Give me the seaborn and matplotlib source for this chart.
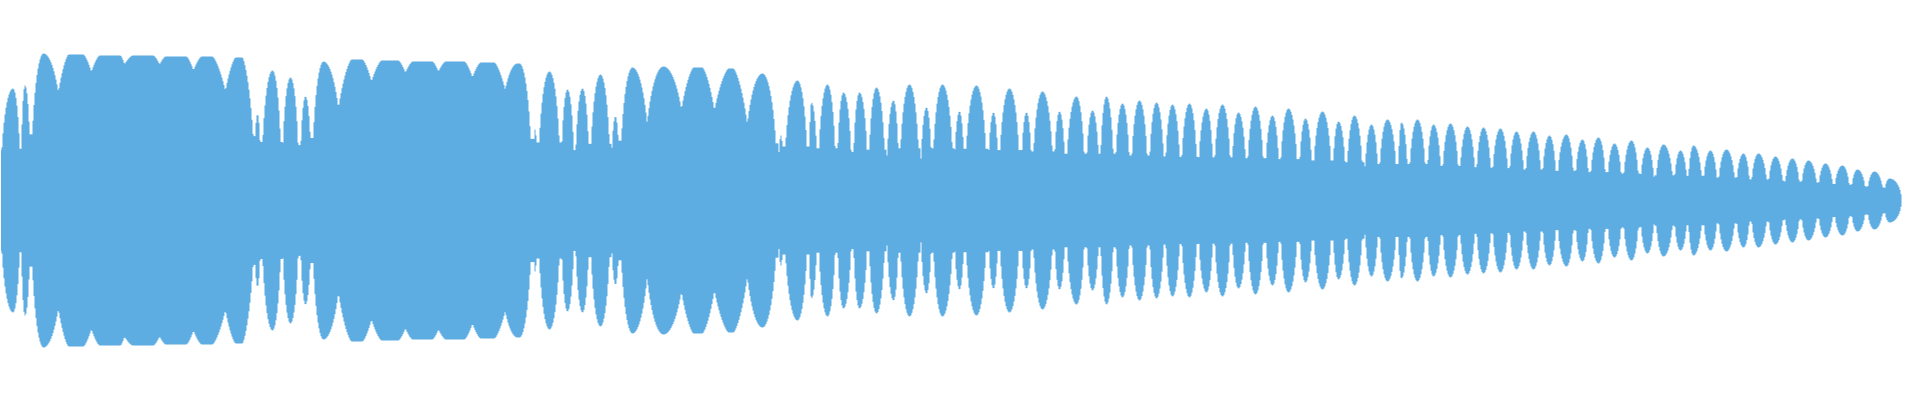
import numpy as np
import pandas as pd
import matplotlib
matplotlib.use('Agg')
import matplotlib.pyplot as plt
import seaborn as sns

# waveform envelope, one entry per bump (x in samples, amplitude in half-height units)
bump_start = [
    0, 20.5, 30.5, 50, 74.5, 95, 136, 174, 216, 253.5,
    261, 281.5, 299.5, 311.5, 331.5, 356, 385, 416, 455, 496,
    532.5, 537.5, 560.5, 574.5, 589.5, 610.5, 619.5, 643, 674, 706,
    743, 777.5, 783.5, 808.5, 817.5, 836.5, 852.5, 868, 886, 899,
    920, 932, 953.5, 964.5, 987.5, 998.5, 1020.5, 1032, 1053.5, 1065.5,
    1085.5, 1099.5, 1114.5, 1130.5, 1148.5, 1164.5, 1180.5, 1197.5, 1213.5, 1231,
    1246.5, 1264.5, 1279.5, 1298.5, 1312.5, 1332, 1346, 1364, 1378.5, 1397.5,
    1408.5, 1426.5, 1441.5, 1459, 1475.5, 1491.5, 1508.5, 1524.5, 1541.5, 1556.5,
    1574.5, 1589.5, 1606.5, 1622.5, 1639.5, 1655, 1673.5, 1687.5, 1702.5, 1717.5,
    1735.5, 1750.5, 1767.5, 1784, 1800.5, 1817.5, 1833.5, 1850.5, 1866.5, 1883.5,
]
bump_peak = [
    12.5, 24.5, 43, 68, 99, 132, 165, 201, 235, 257,
    272, 290, 305, 323, 351, 381, 412, 445, 480, 517,
    534.5, 549, 567, 582, 600, 615, 632, 663, 693, 728,
    762, 780.5, 797, 811, 827, 843, 859, 876, 893, 909,
    926, 942, 959, 976, 993, 1009, 1026, 1042, 1059, 1076,
    1092, 1106, 1122, 1139, 1156, 1172, 1189, 1206, 1222, 1238,
    1255, 1272, 1288, 1305, 1322, 1338, 1354, 1371, 1387, 1401,
    1417, 1433, 1450, 1467, 1483, 1500, 1516, 1533, 1549, 1566,
    1582, 1598, 1614, 1631, 1647, 1663, 1680, 1693, 1710, 1726,
    1743, 1758, 1775, 1792, 1808, 1825, 1842, 1857, 1874, 1889,
]
bump_flat = [
    0, 0, 0, 15, 21, 21, 21, 11, 7, 0,
    0, 0, 0, 0, 11, 17, 20, 19, 14, 2,
    0, 0, 0, 0, 0, 0, 0, 0, 9, 5,
    0, 0, 0, 0, 0, 0, 0, 0, 0, 0,
    0, 0, 0, 0, 0, 0, 0, 0, 0, 0,
    0, 0, 0, 0, 0, 0, 0, 0, 0, 0,
    0, 0, 0, 0, 0, 0, 0, 0, 0, 0,
    0, 0, 0, 0, 0, 0, 0, 0, 0, 0,
    0, 0, 0, 0, 0, 0, 0, 0, 0, 0,
    0, 0, 0, 0, 0, 0, 0, 0, 0, 0,
]
bump_end = [
    20, 30, 65, 106, 138.5, 181, 209.5, 236, 254.5, 260.5,
    281, 298.5, 311, 343, 384, 423, 456.5, 488, 516.5, 531.5,
    537, 560, 574, 589, 610, 619, 650, 687.5, 720.5, 751.5,
    777, 783, 807.5, 817, 835.5, 851.5, 867.5, 885, 898.5, 919,
    931.5, 953, 964, 986.5, 998, 1019.5, 1031.5, 1053, 1065, 1084.5,
    1099, 1113.5, 1129.5, 1147.5, 1164, 1180, 1197, 1213, 1230.5, 1246,
    1263.5, 1279, 1297.5, 1312, 1331.5, 1345.5, 1362.5, 1378, 1396.5, 1407.5,
    1425.5, 1441, 1458.5, 1475, 1491, 1508, 1524, 1541, 1556, 1573.5,
    1588.5, 1605.5, 1621.5, 1638.5, 1654, 1673, 1687, 1702, 1717, 1735,
    1749.5, 1767, 1783, 1799.5, 1817, 1833, 1849.5, 1865.5, 1883, 1901,
]
bump_amp = [
    112, 115, 147, 146, 145, 145, 144, 144, 143, 86,
    130, 123, 104, 139, 141, 140, 139, 139, 138, 137,
    71, 129, 111, 112, 126, 84, 133, 134, 133, 132,
    127, 65, 120, 98, 116, 108, 108, 113, 100, 116,
    93, 116, 89, 115, 88, 112, 88, 109, 89, 104,
    90, 104, 97, 100, 98, 96, 97, 92, 96, 88,
    94, 85, 92, 82, 89, 79, 85, 76, 81, 78,
    81, 76, 77, 74, 73, 72, 69, 69, 65, 66,
    61, 63, 57, 60, 53, 56, 50, 55, 50, 51,
    47, 47, 44, 42, 40, 37, 35, 31, 29, 22,
]

WIDTH = 1920
HEIGHT = 400
COLOR = '#5dade2'
SLIT_DEPTH = 0.45
FLAT_POWER = 1.4


def shoulder(u, a, power):
    return a * np.sqrt(np.clip(1 - u ** power, 0, 1))


def envelope(xs):
    env = np.zeros_like(xs)
    last = bump_end[-1]
    for s, p, f, e, a in zip(bump_start, bump_peak, bump_flat, bump_end, bump_amp):
        # clipped (flat) bumps fall off in wider dips, the rest are round arcs
        power = FLAT_POWER if f >= 5 else 2
        top_end = p + f
        val = np.zeros_like(xs)
        left = (xs >= s) & (xs < p)
        if p > s:
            val[left] = shoulder((p - xs[left]) / (p - s), a, power)
        val[(xs >= p) & (xs <= top_end)] = a
        right = (xs > top_end) & (xs <= e)
        val[right] = shoulder((xs[right] - top_end) / (e - top_end), a, power)
        # the thin gaps between bumps never drop fully to the centre line
        ped = (xs >= s - 1) & (xs <= e + 1) & (xs < last - 1)
        val[ped] = np.maximum(val[ped], SLIT_DEPTH * a)
        env = np.maximum(env, val)
    return env


def main():
    sns.set_theme(style='white')
    xs = np.arange(WIDTH) + 0.5
    df = pd.DataFrame({'x': xs, 'amp': envelope(xs)})

    fig = plt.figure(figsize=(WIDTH / 100, HEIGHT / 100), dpi=100)
    ax = fig.add_axes([0, 0, 1, 1])
    ax.fill_between(df['x'], -df['amp'], df['amp'], step='mid',
                    color=COLOR, linewidth=0, antialiased=False)
    ax.set_xlim(0, WIDTH)
    ax.set_ylim(-HEIGHT / 2, HEIGHT / 2)
    ax.axis('off')
    sns.despine(ax=ax, left=True, bottom=True)
    fig.savefig('out.png', dpi=100, facecolor='white')


if __name__ == '__main__':
    main()
